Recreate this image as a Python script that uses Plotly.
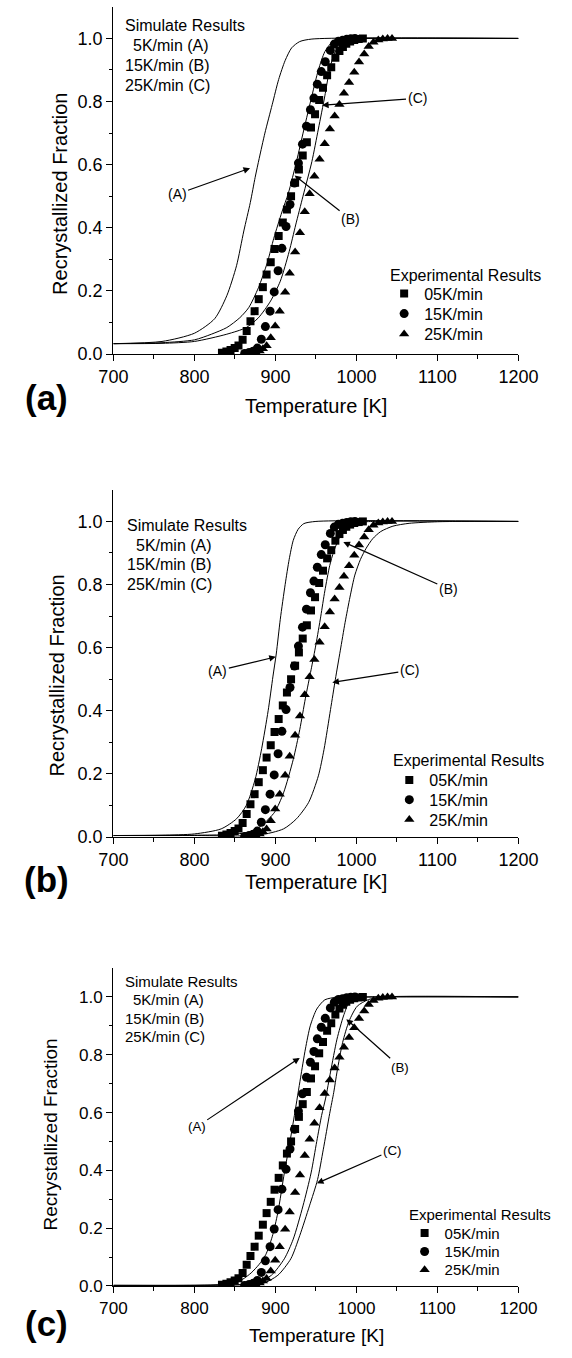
import plotly.graph_objects as go

W, H = 572, 1358
FONT = "Liberation Sans, Arial, sans-serif"

# ---------------- experimental data (same in all panels) ----------------
sq_T = [834.0, 839.5, 844.6, 849.7, 854.4, 859.5, 864.5, 869.2, 874.3, 879.4, 884.5, 889.1,
        894.2, 898.9, 904.0, 909.1, 914.2, 919.3, 924.3, 929.0, 933.7, 938.8, 943.9, 948.9,
        954.0, 958.7, 963.8, 968.9, 974.0, 979.0, 983.3, 987.5, 992.2, 997.3, 1002.8, 1007.9]
sq_y = [0.004, 0.008, 0.013, 0.019, 0.027, 0.045, 0.073, 0.104, 0.136, 0.174, 0.212, 0.252,
        0.291, 0.333, 0.374, 0.417, 0.458, 0.500, 0.543, 0.585, 0.629, 0.671, 0.718, 0.760,
        0.805, 0.844, 0.883, 0.909, 0.939, 0.960, 0.973, 0.983, 0.990, 0.995, 0.998, 1.000]

ci_T = [862.0, 867.5, 872.5, 877.7, 882.6, 887.6, 893.4, 898.5, 903.3, 908.0, 913.1, 918.0,
        923.5, 928.4, 933.4, 938.3, 943.2, 947.5, 951.7, 956.6, 961.5, 967.8, 972.7, 977.8,
        982.9, 988.0, 993.0, 998.1]
ci_y = [0.002, 0.005, 0.009, 0.019, 0.047, 0.087, 0.136, 0.197, 0.264, 0.335, 0.404, 0.474,
        0.542, 0.605, 0.665, 0.722, 0.774, 0.811, 0.855, 0.895, 0.926, 0.962, 0.982, 0.991,
        0.994, 0.997, 0.999, 1.000]

tr_T = [866.0, 871.0, 876.0, 880.5, 884.5, 889.1, 894.2, 899.7, 905.3, 912.0, 917.6, 924.3,
        930.3, 936.2, 942.2, 948.1, 954.5, 960.8, 967.2, 973.1, 979.0, 984.6, 990.9, 997.3,
        1003.2, 1009.6, 1015.1, 1021.0, 1027.0, 1032.5, 1038.4, 1043.9]
tr_y = [0.000, 0.002, 0.005, 0.010, 0.017, 0.026, 0.052, 0.089, 0.136, 0.196, 0.256, 0.323,
        0.384, 0.451, 0.508, 0.563, 0.617, 0.666, 0.713, 0.754, 0.791, 0.826, 0.860, 0.893,
        0.925, 0.951, 0.974, 0.988, 0.995, 0.998, 1.000, 1.000]

exp_names = ["05K/min", "15K/min", "25K/min"]

# ---------------- simulated curves ----------------
# panel (a)
a_A_T = [700, 760, 800, 825, 840, 852, 861, 869, 875, 880, 887, 896, 904, 912, 920, 930, 945, 1200]
a_A_y = [0.033, 0.040, 0.066, 0.112, 0.185, 0.280, 0.390, 0.480, 0.560, 0.620, 0.700, 0.790,
         0.870, 0.930, 0.970, 0.990, 0.998, 1.000]
a_B_T = [700, 760, 800, 821, 840, 856, 867, 879, 890, 898, 908, 916, 926, 935, 945, 953, 961,
         970, 984, 1000, 1200]
a_B_y = [0.033, 0.036, 0.045, 0.063, 0.084, 0.115, 0.147, 0.210, 0.290, 0.367, 0.450, 0.510,
         0.610, 0.710, 0.818, 0.900, 0.958, 0.988, 0.999, 1.000, 1.000]
a_C_T = [700, 760, 800, 840, 864, 879, 894, 906, 917, 925, 934, 945, 953, 961, 966, 972, 980,
         992, 1010, 1200]
a_C_y = [0.033, 0.034, 0.040, 0.063, 0.084, 0.115, 0.168, 0.231, 0.325, 0.409, 0.500, 0.610,
         0.713, 0.818, 0.890, 0.948, 0.983, 0.998, 1.000, 1.000]

# panel (b)
b_A_T = [700, 760, 800, 833, 852, 864, 875, 883, 891, 897, 901, 906, 912, 917, 922, 928, 935,
         950, 1200]
b_A_y = [0.005, 0.006, 0.010, 0.026, 0.058, 0.100, 0.183, 0.280, 0.400, 0.510, 0.580, 0.690,
         0.800, 0.880, 0.940, 0.975, 0.993, 1.000, 1.000]
b_B_T = [700, 800, 841, 868, 883, 899, 910, 922, 930, 937, 944, 950, 956, 961, 967, 972, 980,
         989, 1001, 1020, 1200]
b_B_y = [0.005, 0.006, 0.008, 0.016, 0.037, 0.079, 0.140, 0.246, 0.340, 0.440, 0.530, 0.610,
         0.700, 0.780, 0.860, 0.905, 0.954, 0.983, 0.996, 1.000, 1.000]
b_C_T = [700, 800, 879, 910, 926, 941, 953, 960, 968, 974, 980, 986, 992, 998, 1005, 1012,
         1020, 1030, 1045, 1065, 1100, 1130, 1200]
b_C_y = [0.005, 0.005, 0.006, 0.026, 0.058, 0.110, 0.194, 0.278, 0.404, 0.500, 0.590, 0.680,
         0.760, 0.830, 0.880, 0.915, 0.945, 0.968, 0.985, 0.994, 0.999, 1.000, 1.000]

# panel (c)
c_A_T = [700, 780, 820, 837, 850, 860, 870, 880, 888, 896, 903, 911, 918, 924, 931, 937, 943,
         951, 961, 976, 1000, 1200]
c_A_y = [0.002, 0.002, 0.003, 0.006, 0.013, 0.024, 0.045, 0.075, 0.108, 0.170, 0.254, 0.391,
         0.500, 0.600, 0.720, 0.820, 0.900, 0.958, 0.990, 0.999, 1.000, 1.000]
c_B_T = [700, 800, 850, 876, 895, 911, 922, 934, 944, 951, 957, 962, 968, 976, 984, 991, 1003,
         1020, 1200]
c_B_y = [0.002, 0.002, 0.004, 0.008, 0.037, 0.094, 0.162, 0.277, 0.391, 0.500, 0.590, 0.650,
         0.740, 0.854, 0.934, 0.980, 0.997, 1.000, 1.000]
c_C_T = [700, 800, 855, 884, 903, 919, 930, 942, 952, 959, 967, 972, 976, 983, 991, 1001, 1015,
         1034, 1200]
c_C_y = [0.002, 0.002, 0.004, 0.008, 0.037, 0.094, 0.174, 0.277, 0.368, 0.471, 0.597, 0.670,
         0.740, 0.843, 0.917, 0.968, 0.991, 1.000, 1.000]

# ticks
x_ticks = [700, 800, 900, 1000, 1100, 1200]
y_ticks = [0.0, 0.2, 0.4, 0.6, 0.8, 1.0]

sim_lines = ["Simulate Results", "5K/min (A)", "15K/min (B)", "25K/min (C)"]
curve_labels = ["(A)", "(B)", "(C)"]
panel_labels = ["(a)", "(b)", "(c)"]
x_title = "Temperature [K]"
y_title = "Recrystallized Fraction"
exp_title = "Experimental Results"

# ---------------- layout geometry (pixels) ----------------
def px(x):
    return x / W

def py(y):
    return 1 - y / H

X0, X1 = 104.8, 536.3
panels = [
    dict(top=6.9, bot=356.7, curves=[(a_A_T, a_A_y), (a_B_T, a_B_y), (a_C_T, a_C_y)],
         sim=dict(x=114.9, x5=124.0, ys=[26, 46, 65.7, 85.7], size=16),
         arrows=[(868.7, 0.589, -73, 26), (923.7, 0.566, 56, 44), (957.5, 0.788, 95, -7)],
         leg=dict(title=(396.8, 277.3), sx=413.2, sy=[295.7, 316.0, 336.7], size=16),
         xt=(321, 409.3), yt=(48.5, 195.8), lab=(33.7, 400.8), fs=1.0),
    dict(top=493.5, bot=843.3, curves=[(b_A_T, b_A_y), (b_B_T, b_B_y), (b_C_T, b_C_y)],
         sim=dict(x=117.4, x5=127.0, ys=[529.3, 549.3, 569.0, 588.7], size=16),
         arrows=[(900.5, 0.571, -58, 14), (983.8, 0.935, 105, 47), (970.2, 0.49, 77, -12)],
         leg=dict(title=(401.0, 766.0), sx=418.7, sy=[786.0, 805.7, 825.7], size=16),
         xt=(321, 889.0), yt=(44.5, 680.8), lab=(33.7, 886.0), fs=1.0),
    dict(top=975.2, bot=1295.5, curves=[(c_A_T, c_A_y), (c_B_T, c_B_y), (c_C_T, c_C_y)],
         sim=dict(x=114.9, x5=124.0, ys=[988.7, 1007.3, 1025.7, 1044.3], size=15),
         arrows=[(930.0, 0.789, -103, 69), (987.5, 0.923, 54, 48), (951.2, 0.355, 75, -33)],
         leg=dict(title=(417.6, 1224.0), sx=435.0, sy=[1242.3, 1261.0, 1279.3], size=15),
         xt=(321, 1345.0), yt=(38.3, 1143.0), lab=(33.5, 1333.7), fs=0.95),
]

fig = go.Figure()
layout = dict(
    width=W, height=H, margin=dict(l=0, r=0, t=0, b=0),
    paper_bgcolor="white", plot_bgcolor="white",
    font=dict(family=FONT, color="black"),
    annotations=[],
)

exp_sets = [(sq_T, sq_y, "square", 8), (ci_T, ci_y, "circle", 9), (tr_T, tr_y, "triangle-up", 9)]

leg_idx = 0
for i, p in enumerate(panels):
    sfx = "" if i == 0 else str(i + 1)
    xa, ya = "x" + sfx, "y" + sfx
    fs = p["fs"]
    # simulated curves
    for T, y in p["curves"]:
        fig.add_trace(go.Scatter(x=T, y=y, mode="lines", xaxis=xa, yaxis=ya,
                                 line=dict(color="black", width=1, shape="spline", smoothing=0.7),
                                 showlegend=False, hoverinfo="skip"))
    # experimental
    for j, (T, y, sym, sz) in enumerate(exp_sets):
        leg_idx += 1
        lname = "legend" if leg_idx == 1 else "legend%d" % leg_idx
        fig.add_trace(go.Scatter(x=T, y=y, mode="markers", xaxis=xa, yaxis=ya,
                                 marker=dict(symbol=sym, size=sz, color="black",
                                             line=dict(width=0)),
                                 name=exp_names[j], legend=lname, showlegend=True))
        layout[lname] = dict(x=px(p["leg"]["sx"] - 20), xanchor="left",
                             y=py(p["leg"]["sy"][j]), yanchor="middle",
                             bgcolor="rgba(0,0,0,0)", borderwidth=0,
                             font=dict(size=p["leg"]["size"], family=FONT, color="black"),
                             itemclick=False, itemdoubleclick=False)
    dom_y = [py(p["bot"]), py(p["top"])]
    axis_common = dict(showline=True, linecolor="black", linewidth=1.3, ticks="outside",
                       ticklen=6, tickwidth=1.3, tickcolor="black", showgrid=False,
                       zeroline=False, tickfont=dict(size=18 * fs, family=FONT, color="black"))
    layout["xaxis" + sfx] = dict(domain=[px(X0), px(X1)], range=[700, 1200], anchor=ya,
                                 tickvals=x_ticks, ticktext=[str(v) for v in x_ticks],
                                 minor=dict(tickvals=[750, 850, 950, 1050, 1150], ticks="outside",
                                            ticklen=3.5, tickwidth=1.2, tickcolor="black"),
                                 **axis_common)
    layout["yaxis" + sfx] = dict(domain=dom_y, range=[0, 1.1], anchor=xa,
                                 tickvals=y_ticks, ticktext=["%.1f" % v for v in y_ticks],
                                 minor=dict(tickvals=[0.1, 0.3, 0.5, 0.7, 0.9], ticks="outside",
                                            ticklen=3.5, tickwidth=1.2, tickcolor="black"),
                                 **axis_common)
    ann = layout["annotations"]
    # simulate results block
    s = p["sim"]
    for k, txt in enumerate(sim_lines):
        ann.append(dict(text=txt, xref="paper", yref="paper",
                        x=px(s["x5"] if k == 1 else s["x"]), y=py(s["ys"][k]),
                        xanchor="left", yanchor="middle", showarrow=False,
                        font=dict(size=s["size"], family=FONT, color="black")))
    # experimental title
    lt = p["leg"]["title"]
    ann.append(dict(text=exp_title, xref="paper", yref="paper", x=px(lt[0]), y=py(lt[1]),
                    xanchor="left", yanchor="middle", showarrow=False,
                    font=dict(size=p["leg"]["size"], family=FONT, color="black")))
    # curve arrows
    for k, (tx, tyv, axp, ayp) in enumerate(p["arrows"]):
        ann.append(dict(text=curve_labels[k], x=tx, y=tyv, xref=xa, yref=ya,
                        ax=axp, ay=ayp, showarrow=True, arrowhead=2, arrowsize=1.1,
                        arrowwidth=1.2, arrowcolor="black", standoff=0,
                        font=dict(size=14 * fs, family=FONT, color="black")))
    # axis titles
    ann.append(dict(text=x_title, xref="paper", yref="paper", x=px(p["xt"][0]), y=py(p["xt"][1]),
                    xanchor="center", yanchor="middle", showarrow=False,
                    font=dict(size=20 * fs, family=FONT, color="black")))
    ann.append(dict(text=y_title, xref="paper", yref="paper", x=px(p["yt"][0]), y=py(p["yt"][1]),
                    xanchor="center", yanchor="middle", showarrow=False, textangle=-90,
                    font=dict(size=20 * fs, family=FONT, color="black")))
    # panel label
    ann.append(dict(text="<b>%s</b>" % panel_labels[i], xref="paper", yref="paper",
                    x=px(p["lab"][0]), y=py(p["lab"][1]), xanchor="center", yanchor="middle",
                    showarrow=False, font=dict(size=35, family=FONT, color="black")))

fig.update_layout(**layout)
fig.write_html("out.html")
